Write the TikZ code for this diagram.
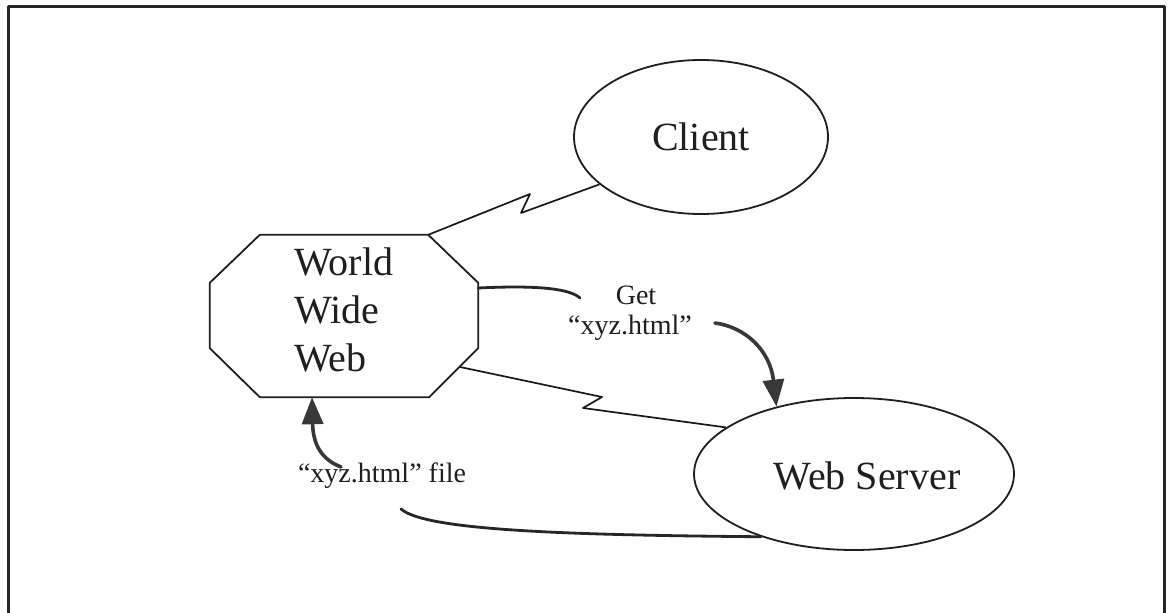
\documentclass[tikz,border=0pt]{standalone}
\usepackage{fontspec}
\setmainfont{Liberation Serif}
\usetikzlibrary{shapes.geometric,arrows.meta,calc}

\begin{document}
\begin{tikzpicture}[x=1pt,y=-1pt,
  line join=round,
  ink/.style={draw=black!88, line width=1.8pt},
  bubble/.style={ellipse, ink, inner sep=0pt},
  bolt/.style={draw=black!90, line width=1.7pt},
  curvy/.style={draw=black!85, line width=2.8pt, line cap=round},
  bigarrow/.style={draw=black!78, line width=3.6pt, line cap=round,
    -{Triangle[length=27pt,width=21pt]}},
  big/.style={font=\fontsize{40}{48}\selectfont, text=black!88},
  small/.style={font=\fontsize{28}{30}\selectfont, text=black!88, inner sep=1pt},
]
\useasboundingbox (0,0) rectangle (1168,613);
\fill[white] (0,0) rectangle (1168,613);

% frame
\draw[line width=3pt, black!85] (8,613) -- (8,6) -- (1164,6) -- (1164,613);

% World Wide Web octagon
\node[minimum width=268pt, minimum height=162pt, inner sep=0pt] (www) at (344,316) {};
\draw[ink] ([xshift=50pt]www.north west) -- ([xshift=-50pt]www.north east)
  -- ([yshift=-48pt]www.north east) -- ([yshift=49pt]www.south east)
  -- ([xshift=-49pt]www.south east) -- ([xshift=50pt]www.south west)
  -- ([yshift=49pt]www.south west) -- ([yshift=-48pt]www.north west) -- cycle;
\node[big, align=left, anchor=north west, inner sep=0pt] (wwwtxt) at (294,248) {World\\Wide\\Web};

% client and server
\node[bubble, minimum width=254pt, minimum height=154pt, big] (client) at (701,137) {Client};
\node[bubble, minimum width=320pt, minimum height=152pt] (server) at (854,474) {};
\node[big] (serverlbl) at (867,476) {Web Server};

% labels
\node[small, align=center] (getlbl) at (630,313) {\hspace*{12pt}Get\\“xyz.html”};
\node[small] (filelbl) at (382,476) {“xyz.html” file};

% lightning links
\draw[bolt] ([xshift=-50pt]www.north east) -- (530,194) -- (521,213) -- (client.205);
\draw[bolt] ($(www.center)+(116,51)$) -- (602,397) -- (583,408) -- (server.160);

% request
\coordinate (getin) at (580,298);
\coordinate (getout) at (715,323);
\draw[curvy] ([yshift=28pt]www.east) .. controls (540,285) and (570,289) .. (getin);
\draw[bigarrow] (getout) .. controls (745,327) and (770,350) .. (server.139);

% response
\coordinate (fileout) at (341,467);
\coordinate (filein) at (401,509);
\draw[bigarrow] (fileout) .. controls (318,458) and (313,440) .. ([xshift=-32pt]www.south);
\draw[curvy] (filein) .. controls (425,530) and (560,535) .. (server.214);
\end{tikzpicture}
\end{document}
